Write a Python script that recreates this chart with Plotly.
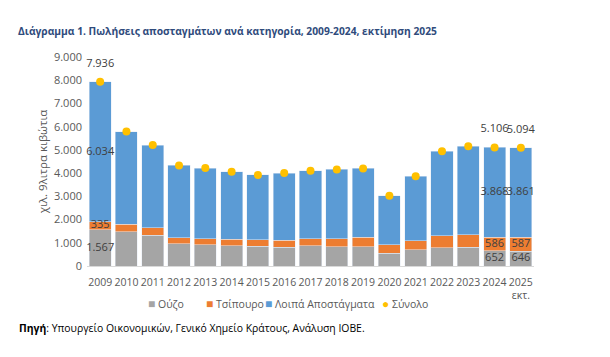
import plotly.graph_objects as go

years = ["2009", "2010", "2011", "2012", "2013", "2014", "2015", "2016", "2017",
         "2018", "2019", "2020", "2021", "2022", "2023", "2024", "2025<br>εκτ."]
ouzo = [1567, 1480, 1330, 950, 910, 865, 850, 810, 865, 835, 835, 550, 690, 780, 805, 652, 646]
tsipouro = [335, 320, 315, 260, 270, 290, 275, 300, 300, 330, 400, 370, 400, 520, 535, 586, 587]
total = [7936, 5790, 5210, 4330, 4220, 4060, 3920, 4000, 4100, 4160, 4200, 3020, 3860, 4940, 5155, 5106, 5094]
others = [t - o - ts for t, o, ts in zip(total, ouzo, tsipouro)]
labelled_years = ["2009", "2024", "2025<br>εκτ."]
series_names = ["Ούζο", "Τσίπουρο", "Λοιπά Αποστάγματα", "Σύνολο"]

def fmt(v):
    return f"{v:,}".replace(",", ".")

def labels(vals):
    return [fmt(v) if y in labelled_years else "" for y, v in zip(years, vals)]

C_GRAY = "#A5A5A5"
C_ORANGE = "#ED7D31"
C_BLUE = "#5B9BD5"
C_YELLOW = "#FFC000"
TXT = "#404040"
AX = "#595959"
FONT = "Open Sans"

# figure geometry (page has an 8px body margin)
W, H = 602, 349
L, R, T, B = 79, 76, 49, 91
PW, PH = W - L - R, H - T - B

def px(x):
    return (x - L) / PW

def py(y):
    return 1 - (y - T) / PH

fig = go.Figure()
fig.add_bar(x=years, y=ouzo, name=series_names[0], marker_color=C_GRAY)
fig.add_bar(x=years, y=tsipouro, name=series_names[1], marker_color=C_ORANGE)
fig.add_bar(x=years, y=others, name=series_names[2], marker_color=C_BLUE)
fig.add_scatter(x=years, y=total, name=series_names[3], mode="markers",
                marker=dict(color=C_YELLOW, size=8))

# in-bar value labels (segment midpoints)
mid_o = [o / 2 for o in ouzo]
mid_t = [o + t / 2 for o, t in zip(ouzo, tsipouro)]
mid_r = [o + t + r / 2 for o, t, r in zip(ouzo, tsipouro, others)]
for ys, vals in [(mid_o, ouzo), (mid_t, tsipouro), (mid_r, others)]:
    fig.add_scatter(x=years, y=ys, mode="text", text=labels(vals),
                    textposition="middle center", showlegend=False,
                    textfont=dict(family=FONT, size=11, color=TXT),
                    hoverinfo="skip", cliponaxis=False)
fig.add_scatter(x=years, y=total, mode="markers+text", text=labels(total),
                marker=dict(size=18, opacity=0),
                textposition="top center", showlegend=False,
                textfont=dict(family=FONT, size=11, color=TXT),
                hoverinfo="skip", cliponaxis=False)

# compact legend (as in the reference)
legend_items = [(series_names[0], C_GRAY, "■", 138), (series_names[1], C_ORANGE, "■", 196),
                (series_names[2], C_BLUE, "■", 255), (series_names[3], C_YELLOW, "●", 372)]
annotations = []
for name, col, sym, x0 in legend_items:
    annotations.append(dict(
        text=f"<span style='color:{col};font-size:12px'>{sym}</span> {name}",
        xref="paper", yref="paper", x=px(x0), y=py(295),
        xanchor="left", yanchor="middle", showarrow=False,
        font=dict(family=FONT, size=10.5, color=AX)))

annotations += [
    dict(text="<b>Διάγραμμα 1. Πωλήσεις αποσταγμάτων ανά κατηγορία, 2009-2024, εκτίμηση 2025</b>",
         xref="paper", yref="paper", x=px(8), y=py(23),
         xanchor="left", yanchor="middle", showarrow=False,
         font=dict(family=FONT, size=10.25, color="#2F4B7C")),
    dict(text="<b>Πηγή</b>: Υπουργείο Οικονομικών, Γενικό Χημείο Κράτους, Ανάλυση ΙΟΒΕ.",
         xref="paper", yref="paper", x=px(9), y=py(320),
         xanchor="left", yanchor="middle", showarrow=False,
         font=dict(family=FONT, size=10.4, color="#000000")),
]

fig.update_layout(
    width=W, height=H,
    barmode="stack", bargap=0.16,
    separators=",.",
    paper_bgcolor="white", plot_bgcolor="white",
    margin=dict(l=L, r=R, t=T, b=B, autoexpand=False),
    font=dict(family=FONT, size=11, color=AX),
    showlegend=False,
    annotations=annotations,
)
fig.update_xaxes(showline=True, linecolor="#D9D9D9", linewidth=1, ticks="",
                 tickangle=0, automargin=False, range=[-0.5, len(years) - 0.5],
                 ticklabelstandoff=6,
                 tickfont=dict(size=10.5, color=AX), showgrid=False)
fig.update_yaxes(range=[0, 9000], dtick=1000, tickformat=",d", showgrid=False,
                 zeroline=False, showline=False, ticks="", automargin=False,
                 tickfont=dict(size=11, color=AX), ticklabelstandoff=4,
                 title=dict(text="χιλ. 9λιτρα κιβώτια", font=dict(size=11.5, color=AX),
                            standoff=3))

fig.write_html("out.html")
